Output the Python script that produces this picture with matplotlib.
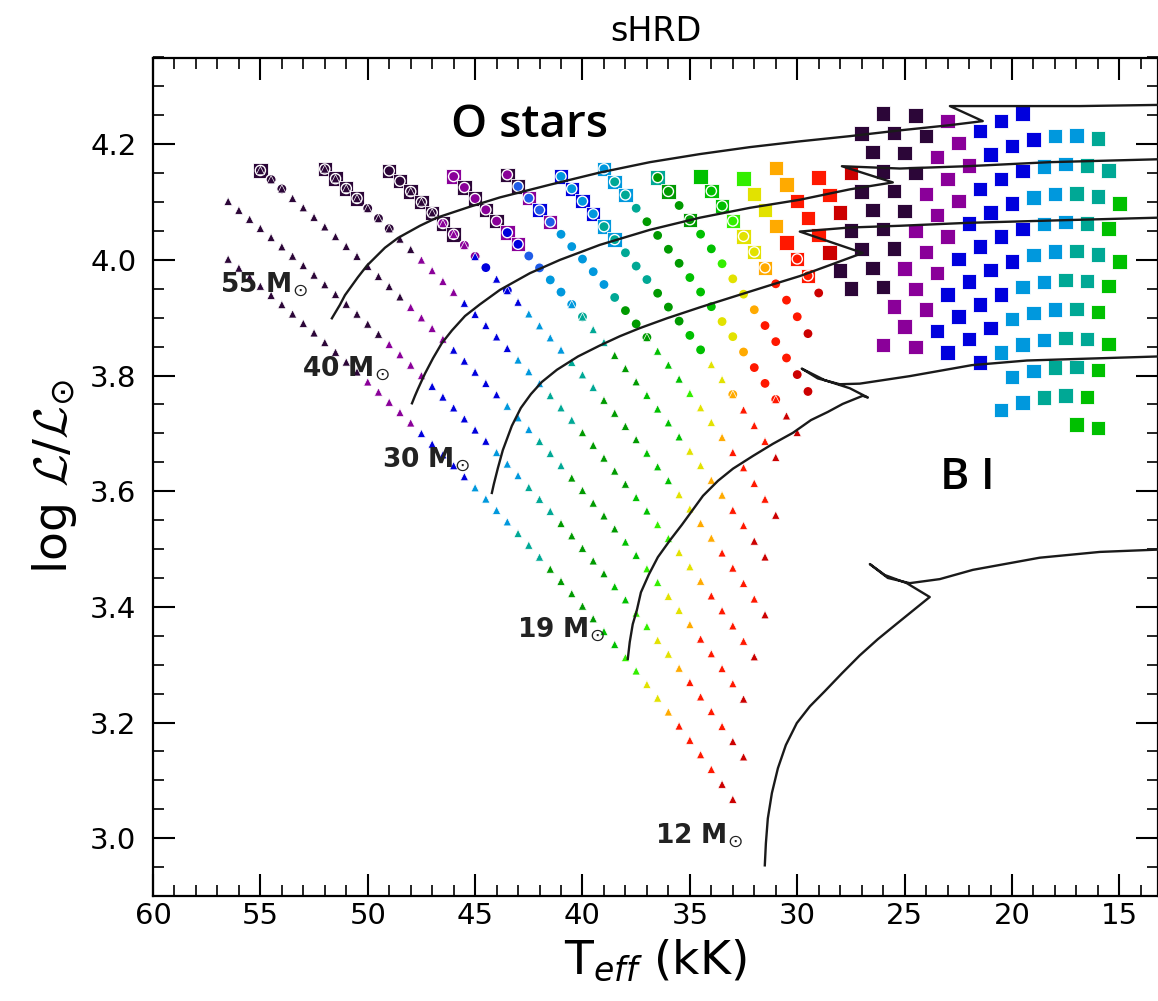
import matplotlib
matplotlib.use('Agg')
import matplotlib.pyplot as plt
from matplotlib.ticker import MultipleLocator
import numpy as np

plt.rcParams['font.family'] = ['DejaVu Sans']
plt.rcParams['mathtext.fontset'] = 'custom'
plt.rcParams['mathtext.rm'] = 'DejaVu Sans'
plt.rcParams['mathtext.it'] = 'DejaVu Sans:italic'
plt.rcParams['mathtext.bf'] = 'DejaVu Sans:bold'
plt.rcParams['mathtext.cal'] = 'cmsy10'

# spectroscopic HRD: log L/Lsun = 4 log(Teff/Teff_sun) - (log g - log g_sun)
TEFF_SUN = 5.777   # kK
LOGG_SUN = 4.44

# model grid temperatures (kK)
TEFF_GRID = [57.5, 57.0, 56.5, 56.0, 55.5, 55.0, 54.5, 54.0, 53.5, 53.0,
             52.5, 52.0, 51.5, 51.0, 50.5, 50.0, 49.5, 49.0, 48.5, 48.0,
             47.5, 47.0, 46.5, 46.0, 45.5, 45.0, 44.5, 44.0, 43.5, 43.0,
             42.5, 42.0, 41.5, 41.0, 40.5, 40.0, 39.5, 39.0, 38.5, 38.0,
             37.5, 37.0, 36.5, 36.0, 35.5, 35.0, 34.5, 34.0, 33.5, 33.0,
             32.5, 32.0, 31.5, 31.0, 30.5, 30.0, 29.5, 29.0, 28.5, 28.0,
             27.5, 27.0, 26.5, 26.0, 25.5, 25.0, 24.5, 24.0, 23.5, 23.0,
             22.5, 22.0, 21.5, 21.0, 20.5, 20.0, 19.5, 19.0, 18.5, 18.0,
             17.5, 17.0, 16.5, 16.0, 15.5, 15.0]

# spectral subtype colours
COLORS = {'k': '#2c0638', 'p': '#8a0099', 'b': '#0000dd', 'c': '#1f5ce8',
          'l': '#0098dd', 't': '#00a895', 'g': '#009a00', 'G': '#00c000',
          'L': '#33ee00', 'y': '#e2e200', 'o': '#ffaa00', 'r': '#ff1800',
          'd': '#cc0000'}

# runs of grid cells per log g: (Teff from, Teff to, subtype colour)
V_ROWS = {  # luminosity class V (triangles)
    4.4: [(56.5, 50.5, 'k'), (50.0, 48.0, 'p'), (47.5, 45.5, 'b'), (45.0, 43.5, 'l'),
          (43.0, 42.0, 't'), (41.5, 39.5, 'g'), (39.0, 38.5, 'G'), (38.0, 37.5, 'L'),
          (37.0, 36.5, 'y'), (36.0, 36.0, 'o'), (35.5, 34.0, 'r'), (33.5, 33.0, 'd')],
    4.3: [(56.5, 49.5, 'k'), (49.0, 47.5, 'p'), (47.0, 44.5, 'b'), (44.0, 43.0, 'l'),
          (42.5, 41.5, 't'), (41.0, 39.0, 'g'), (38.5, 38.0, 'G'), (37.5, 37.0, 'L'),
          (36.5, 36.0, 'y'), (35.5, 35.5, 'o'), (35.0, 33.5, 'r'), (33.0, 32.5, 'd')],
    4.2: [(55.0, 48.5, 'k'), (48.0, 46.5, 'p'), (46.0, 44.0, 'b'), (43.5, 42.5, 'l'),
          (42.0, 41.0, 't'), (40.5, 38.5, 'g'), (38.0, 37.5, 'G'), (37.0, 36.5, 'L'),
          (36.0, 35.5, 'y'), (35.0, 35.0, 'o'), (34.5, 33.0, 'r'), (32.5, 32.5, 'd')],
    4.1: [(52.0, 48.0, 'k'), (47.5, 46.0, 'p'), (45.5, 43.5, 'b'), (43.0, 42.0, 'l'),
          (41.5, 40.5, 't'), (40.0, 38.0, 'g'), (37.5, 37.0, 'G'), (36.5, 36.0, 'L'),
          (35.5, 35.0, 'y'), (34.5, 34.5, 'o'), (34.0, 32.5, 'r'), (32.0, 32.0, 'd')],
    4.0: [(48.0, 47.0, 'k'), (46.5, 45.5, 'p'), (45.0, 45.0, 'b'), (44.0, 43.0, 'b'),
          (42.5, 41.0, 'l'), (40.5, 39.5, 't'), (39.0, 37.5, 'g'), (37.0, 36.0, 'G'),
          (35.5, 35.0, 'y'), (34.5, 34.0, 'o'), (33.5, 32.0, 'r'), (31.5, 31.5, 'd')],
    3.9: [(40.5, 40.5, 'l'), (40.0, 39.0, 't'), (38.5, 37.5, 'g'), (37.0, 35.5, 'G'),
          (35.0, 34.5, 'y'), (34.0, 33.5, 'o'), (33.0, 32.5, 'r'), (32.0, 31.5, 'd')],
    3.8: [(37.0, 37.0, 'g'), (36.5, 35.5, 'G'), (35.0, 35.0, 'L'), (34.5, 34.0, 'y'),
          (33.5, 33.5, 'o'), (33.0, 31.5, 'r'), (31.0, 31.0, 'd')],
    3.7: [(34.0, 33.5, 'y'), (33.0, 33.0, 'o'), (32.5, 31.5, 'r'), (31.0, 31.0, 'd')],
    3.6: [(31.0, 31.0, 'r'), (30.5, 30.0, 'd')],
}

III_ROWS = {  # luminosity class III (circles)
    4.2: [(55.0, 54.0, 'k')],
    4.1: [(52.0, 49.0, 'k')],
    4.0: [(49.0, 47.0, 'k'), (46.5, 45.0, 'p'), (44.5, 44.5, 'b'), (43.5, 43.5, 'b')],
    3.9: [(46.0, 44.0, 'p'), (43.5, 43.0, 'b'), (42.5, 42.0, 'c'), (41.5, 40.5, 'l'),
          (40.0, 40.0, 't')],
    3.8: [(43.5, 43.5, 'p'), (43.0, 41.5, 'c'), (41.0, 39.0, 'l'), (38.5, 38.5, 't'),
          (38.0, 37.0, 'g')],
    3.7: [(41.0, 39.5, 'l'), (39.0, 37.0, 't'), (36.5, 35.5, 'g'), (35.0, 34.5, 'G'),
          (33.0, 33.0, 'o')],
    3.6: [(39.0, 39.0, 'l'), (38.5, 37.5, 't'), (37.0, 35.5, 'g'), (35.0, 34.0, 'G'),
          (33.5, 33.0, 'y'), (32.5, 32.5, 'o'), (32.0, 31.0, 'r')],
    3.5: [(36.5, 35.0, 'g'), (34.5, 34.0, 'G'), (33.5, 33.5, 'L'), (33.0, 32.5, 'y'),
          (32.0, 32.0, 'o'), (31.5, 30.5, 'r'), (30.0, 29.5, 'd')],
    3.4: [(34.0, 33.5, 'G'), (33.0, 33.0, 'L'), (32.5, 32.0, 'y'), (31.5, 31.5, 'o'),
          (31.0, 30.0, 'r'), (29.5, 29.5, 'd')],
    3.3: [(30.0, 29.5, 'r'), (29.0, 29.0, 'd')],
}

I_ROWS = {  # luminosity class I (squares)
    4.2: [(55.0, 55.0, 'k')],
    4.1: [(52.0, 50.5, 'k')],
    4.0: [(49.0, 46.0, 'k')],
    3.9: [(46.0, 46.0, 'p'), (45.5, 44.0, 'k'), (43.5, 43.0, 'p')],
    3.8: [(43.5, 43.0, 'k'), (42.5, 42.5, 'p'), (42.0, 42.0, 'b'), (41.5, 41.5, 'p')],
    3.7: [(41.0, 39.5, 'b'), (39.0, 38.5, 'l')],
    3.6: [(39.0, 38.0, 'l')],
    3.5: [(36.5, 36.5, 't'), (36.0, 36.0, 'g'), (35.0, 35.0, 'g')],
    3.4: [(34.5, 33.5, 'G'), (33.0, 33.0, 'L'), (32.5, 32.0, 'y'), (31.5, 31.5, 'o')],
    3.3: [(32.5, 32.5, 'L'), (32.0, 31.5, 'y'), (31.0, 31.0, 'o'), (30.5, 29.5, 'r')],
    3.2: [(31.0, 30.5, 'o'), (30.0, 29.0, 'r'), (28.5, 28.5, 'd'), (28.0, 27.5, 'k'),
          (26.0, 26.0, 'p')],
    3.1: [(29.0, 28.5, 'r'), (28.0, 28.0, 'd'), (27.5, 26.0, 'k'), (25.5, 24.5, 'p')],
    3.0: [(27.5, 27.5, 'd'), (27.0, 25.5, 'k'), (25.0, 24.0, 'p'), (23.5, 23.0, 'b')],
    2.9: [(27.0, 25.0, 'k'), (24.5, 23.5, 'p'), (23.0, 21.5, 'b'), (20.5, 20.5, 'l')],
    2.8: [(26.0, 24.5, 'k'), (24.0, 23.0, 'p'), (22.5, 21.0, 'b'), (20.5, 19.5, 'l')],
    2.7: [(24.5, 24.0, 'k'), (23.5, 22.5, 'p'), (22.0, 20.5, 'b'), (20.0, 19.0, 'l'),
          (18.5, 18.5, 't')],
    2.6: [(23.0, 22.0, 'p'), (21.5, 20.0, 'b'), (19.5, 18.5, 'l'), (18.0, 17.5, 't'),
          (17.0, 17.0, 'G')],
    2.5: [(21.5, 19.5, 'b'), (19.0, 18.0, 'l'), (17.5, 17.0, 't'), (16.5, 16.0, 'G')],
    2.4: [(20.5, 19.5, 'b'), (19.0, 18.0, 'l'), (17.5, 16.5, 't'), (16.0, 16.0, 'G')],
    2.3: [(19.5, 19.0, 'b'), (18.5, 17.5, 'l'), (17.0, 16.5, 't'), (16.0, 15.5, 'G')],
    2.2: [(18.0, 17.5, 'l'), (17.0, 16.0, 't'), (15.5, 15.5, 'G')],
    2.1: [(17.0, 17.0, 'l'), (16.5, 16.0, 't'), (15.5, 15.0, 'G')],
    2.0: [(16.0, 15.5, 't'), (15.0, 15.0, 'G')],
}

# evolutionary tracks (Teff in kK, log L/Lsun)
TRACK_55_T = [51.67, 51.30, 51.06, 50.46, 50.04, 49.20, 48.59, 47.57, 46.78, 45.24,
              43.85, 41.52, 39.20, 36.86, 34.53, 32.21, 29.88, 27.55, 25.22, 22.89,
              21.36, 22.89, 20.57, 16.84, 13.21]
TRACK_55_L = [3.899, 3.922, 3.939, 3.970, 3.990, 4.021, 4.038, 4.059, 4.073, 4.092,
              4.108, 4.130, 4.151, 4.169, 4.183, 4.195, 4.205, 4.214, 4.224, 4.233,
              4.240, 4.266, 4.266, 4.266, 4.268]
TRACK_40_T = [47.94, 47.80, 47.66, 47.34, 46.96, 46.55, 46.08, 45.47, 44.78, 43.85,
              42.45, 41.05, 39.19, 36.86, 34.53, 32.21, 29.88, 27.55, 25.55, 27.92,
              25.22, 22.10, 18.24, 13.21]
TRACK_40_L = [3.752, 3.765, 3.777, 3.803, 3.830, 3.856, 3.878, 3.903, 3.923, 3.948,
              3.977, 4.000, 4.026, 4.052, 4.073, 4.090, 4.104, 4.122, 4.134, 4.162,
              4.158, 4.162, 4.169, 4.174]
TRACK_30_T = [44.22, 44.13, 43.94, 43.71, 43.29, 42.87, 42.40, 41.89, 41.19, 40.21,
              39.19, 38.26, 37.33, 36.07, 34.53, 32.91, 31.28, 29.88, 28.48, 26.95,
              29.88, 27.55, 25.22, 22.10, 18.24, 13.21]
TRACK_30_L = [3.597, 3.612, 3.640, 3.671, 3.713, 3.744, 3.768, 3.789, 3.810, 3.833,
              3.852, 3.868, 3.882, 3.899, 3.918, 3.937, 3.956, 3.972, 3.991, 4.012,
              4.049, 4.056, 4.059, 4.064, 4.068, 4.073]
TRACK_19_T = [37.89, 37.80, 37.66, 37.47, 37.28, 36.91, 36.49, 35.93, 35.37, 34.39,
              33.69, 32.99, 32.06, 31.13, 30.20, 29.36, 28.58, 27.88, 26.95, 26.71,
              27.55, 28.72, 29.79, 29.04, 28.02, 27.09, 24.76, 21.87, 19.31, 13.21]
TRACK_19_L = [3.310, 3.339, 3.370, 3.394, 3.425, 3.456, 3.486, 3.515, 3.542, 3.592,
              3.618, 3.639, 3.661, 3.682, 3.701, 3.723, 3.737, 3.751, 3.765, 3.762,
              3.778, 3.792, 3.812, 3.795, 3.785, 3.786, 3.799, 3.818, 3.826, 3.833]
TRACK_12_T = [31.51, 31.46, 31.37, 31.18, 30.90, 30.53, 30.02, 29.41, 28.72, 27.92,
              27.09, 26.25, 25.36, 24.53, 23.83, 24.90, 25.92, 26.62, 25.78, 24.76,
              23.36, 21.82, 18.71, 15.91, 13.21]
TRACK_12_L = [2.953, 2.991, 3.034, 3.078, 3.121, 3.161, 3.199, 3.228, 3.254, 3.285,
              3.316, 3.344, 3.371, 3.396, 3.417, 3.441, 3.455, 3.474, 3.450, 3.441,
              3.448, 3.464, 3.485, 3.495, 3.499]

MASS_LABELS = ['55', '40', '30', '19', '12']
MASS_LABEL_T = [56.88, 53.06, 49.34, 43.05, 36.63]
MASS_LABEL_L = [3.957, 3.812, 3.654, 3.360, 3.005]


def grid_cells(rows):
    teff, lum, col = [], [], []
    for logg, runs in rows.items():
        for hi, lo, c in runs:
            for t in TEFF_GRID:
                if lo - 1e-6 <= t <= hi + 1e-6:
                    teff.append(t)
                    lum.append(4 * np.log10(t / TEFF_SUN) - (logg - LOGG_SUN))
                    col.append(COLORS[c])
    return teff, lum, col


fig = plt.figure(figsize=(11.58, 10.01), dpi=100)
ax = fig.add_axes([153 / 1158, 105 / 1001, 1005 / 1158, 838.5 / 1001])

t, l, c = grid_cells(I_ROWS)
ax.scatter(t, l, s=108, marker='s', c=c, edgecolors='white', linewidths=0.6, zorder=2)
t, l, c = grid_cells(III_ROWS)
ax.scatter(t, l, s=54, marker='o', c=c, edgecolors='white', linewidths=1.0, zorder=3)
t, l, c = grid_cells(V_ROWS)
ax.scatter(t, l, s=35, marker='^', c=c, edgecolors='white', linewidths=0.5, zorder=4)

for tt, ll in [(TRACK_55_T, TRACK_55_L), (TRACK_40_T, TRACK_40_L),
               (TRACK_30_T, TRACK_30_L), (TRACK_19_T, TRACK_19_L),
               (TRACK_12_T, TRACK_12_L)]:
    ax.plot(tt, ll, color='#1a1a1a', lw=1.7, zorder=5)

for lab, tt, ll in zip(MASS_LABELS, MASS_LABEL_T, MASS_LABEL_L):
    ax.text(tt, ll, lab + r' M$_{\odot}$', fontsize=19, fontweight='bold',
            color='#222222', ha='left', va='center', zorder=6)

ax.text(42.45, 4.233, 'O stars', fontsize=33, family=['Open Sans', 'DejaVu Sans'],
        fontweight='semibold', ha='center', va='center', zorder=6)
ax.text(22.06, 3.623, 'B I', fontsize=32, family=['Open Sans', 'DejaVu Sans'],
        fontweight='semibold', ha='center', va='center', zorder=6)

ax.set_xlim(60, 13.2)
ax.set_ylim(2.9, 4.35)
ax.xaxis.set_major_locator(MultipleLocator(5))
ax.xaxis.set_minor_locator(MultipleLocator(1))
ax.yaxis.set_major_locator(MultipleLocator(0.2))
ax.yaxis.set_minor_locator(MultipleLocator(0.05))
ax.yaxis.set_major_formatter(matplotlib.ticker.FormatStrFormatter('%.1f'))
ax.tick_params(which='both', direction='in', top=True, right=True, labelsize=21)
ax.tick_params(which='major', length=16, width=1.5)
ax.tick_params(which='minor', length=8, width=1.2)
ax.tick_params(axis='y', pad=12)
ax.tick_params(axis='x', pad=4)
for sp in ax.spines.values():
    sp.set_linewidth(1.6)

ax.set_xlabel(r'T$_{eff}$ (kK)', fontsize=34, labelpad=6)
ax.set_ylabel(r'log $\mathcal{L}/\mathcal{L}_{\odot}$', fontsize=34, labelpad=8)
ax.set_title('sHRD', fontsize=24, pad=12)

fig.savefig('out.png', dpi=100)
